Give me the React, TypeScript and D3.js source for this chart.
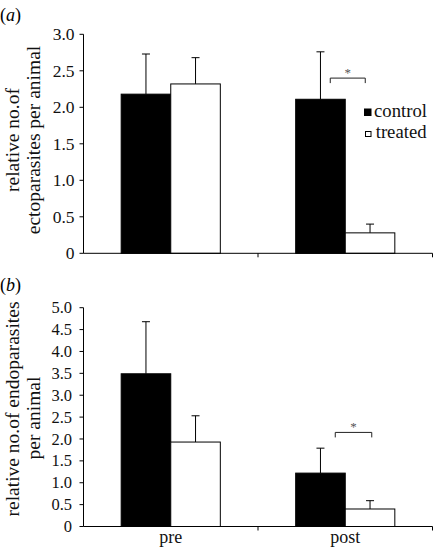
import React from "react";
import * as d3 from "d3";

const categories = ["pre", "post"];
const seriesNames = ["control", "treated"];

// panel (a) ectoparasites
const ectoControl = [2.18, 2.11];
const ectoTreated = [2.32, 0.28];
const ectoControlErr = [0.55, 0.65];
const ectoTreatedErr = [0.36, 0.12];
const ectoTicks = [0, 0.5, 1.0, 1.5, 2.0, 2.5, 3.0];
const ectoTickLabels = ["0", "0.5", "1.0", "1.5", "2.0", "2.5", "3.0"];

// panel (b) endoparasites
const endoControl = [3.49, 1.22];
const endoTreated = [1.93, 0.4];
const endoControlErr = [1.19, 0.57];
const endoTreatedErr = [0.6, 0.19];
const endoTicks = [0, 0.5, 1.0, 1.5, 2.0, 2.5, 3.0, 3.5, 4.0, 4.5, 5.0];
const endoTickLabels = ["0", "0.5", "1.0", "1.5", "2.0", "2.5", "3.0", "3.5", "4.0", "4.5", "5.0"];

const FONT = "'Liberation Serif', 'Times New Roman', serif";

type PanelProps = {
  label: string;
  control: number[];
  treated: number[];
  controlErr: number[];
  treatedErr: number[];
  ticks: number[];
  tickLabels: string[];
  tickFs: number;
  tickRight: number;
  yTop: number;
  yBottom: number;
  titleLines: string[];
  titleYs: number[];
  labelY: number;
  showCats: boolean;
  showLegend: boolean;
  sigY: number;
  sigX0: number;
  sigX1: number;
};

const X0 = 83.5;
const X1 = 432.5;

function Panel(p: PanelProps) {
  const x = d3.scaleBand<string>().domain(categories).range([X0, X1]).padding(0);
  const xs = d3
    .scaleBand<string>()
    .domain(seriesNames)
    .range([0, x.bandwidth()])
    .paddingInner(0)
    .paddingOuter(0.76);
  const maxT = p.ticks[p.ticks.length - 1];
  const y = d3.scaleLinear().domain([0, maxT]).range([p.yBottom, p.yTop]);
  const vals = [p.control, p.treated];
  const errs = [p.controlErr, p.treatedErr];
  const fills = ["#000", "#fff"];
  const postC = (x("post") as number) + x.bandwidth() / 2;
  return (
    <g>
      <text x={0} y={p.labelY} fontFamily={FONT} fontSize={18}>
        (<tspan fontStyle="italic">{p.label}</tspan>)
      </text>
      {p.titleLines.map((t, i) => (
        <text
          key={i}
          transform={`translate(${19 + i * 21},${p.titleYs[i]}) rotate(-90)`}
          textAnchor="middle"
          fontFamily={FONT}
          fontSize={19.5}
          fill="#111"
        >
          {t}
        </text>
      ))}
      {/* y axis */}
      <line x1={X0} x2={X0} y1={p.yTop} y2={p.yBottom} stroke="#000" strokeWidth={1} />
      {p.ticks.map((t, i) => (
        <g key={i}>
          <line x1={X0 - 4} x2={X0} y1={y(t)} y2={y(t)} stroke="#000" />
          <text
            x={p.tickRight}
            y={y(t)}
            dy="0.34em"
            textAnchor="end"
            fontFamily={FONT}
            fontSize={p.tickFs}
            fill="#111"
          >
            {p.tickLabels[i]}
          </text>
        </g>
      ))}
      {/* bars */}
      {categories.map((c, ci) =>
        seriesNames.map((s, si) => {
          const bx = (x(c) as number) + (xs(s) as number);
          const v = vals[si][ci];
          const e = errs[si][ci];
          const cx = bx + xs.bandwidth() / 2;
          return (
            <g key={c + s}>
              <line x1={cx} x2={cx} y1={y(v)} y2={y(v + e)} stroke="#000" />
              <line x1={cx - 4} x2={cx + 4} y1={y(v + e)} y2={y(v + e)} stroke="#000" />
              <rect
                x={bx}
                y={y(v)}
                width={xs.bandwidth()}
                height={p.yBottom - y(v)}
                fill={fills[si]}
                stroke="#000"
                strokeWidth={1}
              />
            </g>
          );
        })
      )}
      {/* x axis */}
      <line x1={X0} x2={X1} y1={p.yBottom} y2={p.yBottom} stroke="#000" />
      {categories.map((c) => {
        const xr = (x(c) as number) + x.bandwidth();
        return <line key={c} x1={xr} x2={xr} y1={p.yBottom} y2={p.yBottom + 4} stroke="#000" />;
      })}
      {p.showCats &&
        categories.map((c) => (
          <text
            key={c}
            x={(x(c) as number) + x.bandwidth() / 2}
            y={543}
            textAnchor="middle"
            fontFamily={FONT}
            fontSize={18}
            fill="#111"
          >
            {c}
          </text>
        ))}
      {/* significance */}
      <path
        d={`M${postC + p.sigX0},${y(p.sigY) + 5}V${y(p.sigY)}H${postC + p.sigX1}V${y(p.sigY) + 5}`}
        fill="none"
        stroke="#222"
      />
      <text
        x={postC + (p.sigX0 + p.sigX1) / 2}
        y={y(p.sigY) - 1}
        textAnchor="middle"
        fontFamily={FONT}
        fontSize={13}
        fill="#555"
      >
        *
      </text>
      {p.showLegend && (
        <g fontFamily={FONT} fontSize={18.7} fill="#111">
          <rect x={364} y={108.5} width={7.5} height={7.5} fill="#000" />
          <text x={374} y={117.3}>
            {seriesNames[0]}
          </text>
          <rect x={365.5} y={131.5} width={5.5} height={5} fill="#fff" stroke="#000" />
          <text x={375.7} y={138.3}>
            {seriesNames[1]}
          </text>
        </g>
      )}
    </g>
  );
}

export default function App() {
  return (
    <div style={{ position: "absolute", left: 0, top: 0 }}>
      <svg width={434} height={548} style={{ display: "block", background: "#fff" }}>
        <Panel
          label="a"
          control={ectoControl}
          treated={ectoTreated}
          controlErr={ectoControlErr}
          treatedErr={ectoTreatedErr}
          ticks={ectoTicks}
          tickLabels={ectoTickLabels}
          tickFs={17.5}
          tickRight={74.5}
          yTop={34.3}
          yBottom={253.3}
          titleLines={["relative no.of", "ectoparasites per animal"]}
          titleYs={[140, 140]}
          labelY={21}
          showCats={false}
          showLegend={true}
          sigY={2.4}
          sigX0={-15}
          sigX1={20}
        />
        <Panel
          label="b"
          control={endoControl}
          treated={endoTreated}
          controlErr={endoControlErr}
          treatedErr={endoTreatedErr}
          ticks={endoTicks}
          tickLabels={endoTickLabels}
          tickFs={16.5}
          tickRight={72}
          yTop={307.7}
          yBottom={526.5}
          titleLines={["relative no.of endoparasites", "per animal"]}
          titleYs={[409, 418]}
          labelY={291}
          showCats={true}
          showLegend={false}
          sigY={2.15}
          sigX0={-10}
          sigX1={26.5}
        />
      </svg>
    </div>
  );
}
